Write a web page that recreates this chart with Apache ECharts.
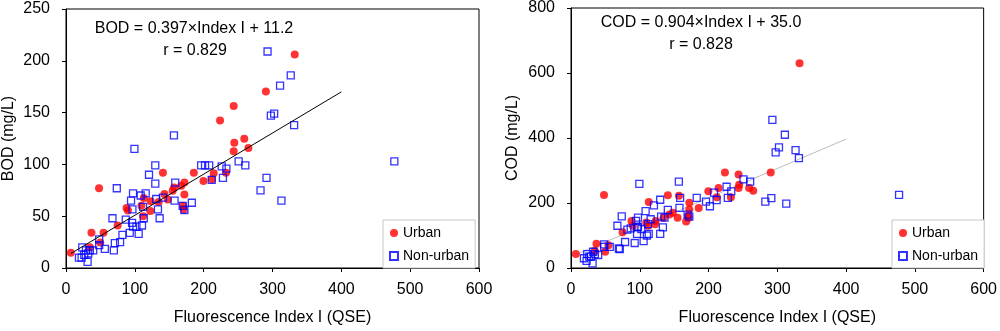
<!DOCTYPE html>
<html>
<head>
<meta charset="utf-8">
<script src="https://cdn.jsdelivr.net/npm/echarts@6/dist/echarts.min.js"></script>
<style>
html,body{margin:0;padding:0;background:#fff;}
#c{width:1000px;height:331px;}
</style>
</head>
<body>
<div id="c"></div>
<script>
// Fluorescence Index I (QSE) for urban samples, with BOD and COD (mg/L)
var urbanX   = [7, 48, 37, 54.5, 34.7, 49.7, 75, 88, 90, 109.5, 112, 113, 123, 122.5, 134.6, 140.8, 143, 148, 155, 157, 167.4, 172, 172, 170, 171, 185.7, 199.7, 212, 214.6, 223.8, 232.5, 243.6, 244.5, 243.6, 259, 265, 290.4, 332.3];
var urbanBOD = [14.6, 77, 34, 34, 20, 24.7, 41, 58, 55.5, 60, 50, 67.6, 64.4, 55, 63.8, 92, 71.4, 66, 74.6, 77.7, 79.3, 82.5, 71, 60, 56.5, 92, 84, 85.7, 91.4, 142.4, 92, 112.6, 121, 156.4, 124.7, 115.8, 170.4, 206.2];
var urbanCOD = [43, 225, 75, 70, 52, 50, 110, 145, 130, 140, 130, 203, 145, 135, 155, 224, 165, 170, 155, 222, 143, 201, 180, 160, 155, 185, 236, 218, 246, 294, 218, 246, 256, 288, 246, 238, 294, 630];

// Non-urban samples
var nonUrbanX   = [292.8, 326.5, 311, 302.4, 297.6, 331.4, 156.8, 99.4, 129.7, 196.3, 202, 208, 226.2, 233, 250.8, 260.5, 477, 120.6, 291.3, 282.6, 313, 211.7, 228, 158.7, 129.7, 73.8, 97.4, 115.8, 108.5, 94.5, 131, 140.8, 157.7, 182.8, 169.5, 172, 112, 96.5, 133.6, 136, 113, 67.5, 86.8, 96, 97.4, 102.3, 110.4, 92.6, 105.6, 82, 78.6, 71, 69.5, 48.2, 48.2, 56.4, 23.6, 29, 34.7, 39.5, 32.3, 26.5, 18.8, 22.7, 31.4];
var nonUrbanBOD = [209, 186, 176, 149, 147, 138, 128, 115, 99, 99, 99, 99, 98, 96, 103, 99, 103, 90, 87, 75, 65, 85, 87, 82.5, 81.5, 77, 72, 72, 70, 65, 66.6, 68, 65, 63, 60, 56, 59, 56.5, 56.5, 48, 48, 48, 46.6, 43.5, 40, 40, 41, 34, 33, 32, 25, 24, 17, 27.6, 22, 18.4, 20, 17, 17, 17, 14, 12.7, 10, 10, 6];
var nonUrbanCOD = [456, 363, 410, 371, 356, 338, 266, 259, 210, 204, 190, 232, 250, 236, 273, 266, 225, 193, 215, 204, 198, 209, 216, 216, 105, 159, 155, 150, 175, 145, 158, 179, 185, 216, 164, 158, 135, 125, 125, 155, 105, 130, 122, 105, 127, 120, 100, 77, 83, 118, 80, 58, 60, 73, 65, 65, 43, 35, 43, 40, 50, 35, 30, 22, 14];

// Regression fits
var bodFit = {slope: 0.397, intercept: 11.2, r: 0.829, xFrom: 7, xTo: 400};
var codFit = {slope: 0.904, intercept: 35.0, r: 0.828, xFrom: 7, xTo: 400};

var xTicks = {min: 0, max: 600, interval: 100};
var bodTicks = {min: 0, max: 250, interval: 50};
var codTicks = {min: 0, max: 800, interval: 200};

function pairs(xs, ys) { return xs.map(function (x, i) { return [x, ys[i]]; }); }
function fitLine(f) { return [[f.xFrom, f.slope * f.xFrom + f.intercept], [f.xTo, f.slope * f.xTo + f.intercept]]; }

var FONT = "'Liberation Sans', Arial, sans-serif";
var FS = 16;

function xAxis(gi) {
  return {
    gridIndex: gi, type: 'value', min: xTicks.min, max: xTicks.max, interval: xTicks.interval,
    name: 'Fluorescence Index I (QSE)', nameLocation: 'middle', nameGap: 42,
    nameTextStyle: {fontFamily: FONT, fontSize: FS, color: '#000'},
    axisLine: {show: true, onZero: false, lineStyle: {color: '#000', width: 1}},
    axisTick: {show: true, length: 4, lineStyle: {color: '#000'}},
    axisLabel: {fontFamily: FONT, fontSize: FS, color: '#000', margin: 14},
    splitLine: {show: false}
  };
}
function yAxis(gi, t, name, gap) {
  return {
    gridIndex: gi, type: 'value', min: t.min, max: t.max, interval: t.interval,
    name: name, nameLocation: 'middle', nameGap: gap,
    nameTextStyle: {fontFamily: FONT, fontSize: FS, color: '#000'},
    axisLine: {show: true, onZero: false, lineStyle: {color: '#000', width: 1}},
    axisTick: {show: true, length: 4, lineStyle: {color: '#000'}},
    axisLabel: {fontFamily: FONT, fontSize: FS, color: '#000', margin: 16},
    splitLine: {show: false}
  };
}
var urbanStyle = {color: '#ff0000'};
var nonUrbanStyle = {color: 'rgba(255,255,255,0)', borderColor: '#0000ff', borderWidth: 1.3};

function legend(left) {
  return {
    orient: 'vertical', left: left, top: 220,
    data: ['Urban', 'Non-urban'],
    itemWidth: 8, itemHeight: 8, itemGap: 9,
    padding: [6, 6, 5, 6],
    borderColor: '#c8c8c8', borderWidth: 1, backgroundColor: '#fff',
    textStyle: {fontFamily: FONT, fontSize: 14, color: '#000'},
    selectedMode: false
  };
}

var chart = echarts.init(document.getElementById('c'), null, {renderer: 'canvas'});
chart.setOption({
  animation: false,
  backgroundColor: '#fff',
  grid: [
    {left: 64, right: 521, top: 9, bottom: 59, show: true, borderColor: '#000', borderWidth: 1},
    {left: 571, right: 12, top: 6, bottom: 59, show: true, borderColor: '#000', borderWidth: 1}
  ],
  xAxis: [xAxis(0), xAxis(1)],
  yAxis: [yAxis(0, bodTicks, 'BOD (mg/L)', 49), yAxis(1, codTicks, 'COD (mg/L)', 50)],
  legend: [legend(383), legend(892)],
  series: [
    {name: 'Urban', type: 'scatter', xAxisIndex: 0, yAxisIndex: 0, symbol: 'circle', symbolSize: 8,
     itemStyle: urbanStyle, data: pairs(urbanX, urbanBOD), z: 3},
    {name: 'Non-urban', type: 'scatter', xAxisIndex: 0, yAxisIndex: 0, symbol: 'rect', symbolSize: 7,
     itemStyle: nonUrbanStyle, data: pairs(nonUrbanX, nonUrbanBOD), z: 4},
    {name: 'fitBOD', type: 'line', xAxisIndex: 0, yAxisIndex: 0, showSymbol: false, symbol: 'none',
     lineStyle: {color: '#000', width: 1}, data: fitLine(bodFit), z: 5, silent: true},
    {name: 'Urban', type: 'scatter', xAxisIndex: 1, yAxisIndex: 1, symbol: 'circle', symbolSize: 8,
     itemStyle: urbanStyle, data: pairs(urbanX, urbanCOD), z: 3},
    {name: 'Non-urban', type: 'scatter', xAxisIndex: 1, yAxisIndex: 1, symbol: 'rect', symbolSize: 7,
     itemStyle: nonUrbanStyle, data: pairs(nonUrbanX, nonUrbanCOD), z: 4},
    {name: 'fitCOD', type: 'line', xAxisIndex: 1, yAxisIndex: 1, showSymbol: false, symbol: 'none',
     lineStyle: {color: '#bdbdbd', width: 1}, data: fitLine(codFit), z: 2, silent: true}
  ],
  graphic: [
    {type: 'text', x: 194, y: 29, style: {text: 'BOD = ' + bodFit.slope.toFixed(3) + '×Index I + ' + bodFit.intercept.toFixed(1), font: FS + 'px ' + FONT, fill: '#000', textAlign: 'center', textVerticalAlign: 'middle'}},
    {type: 'text', x: 195, y: 51, style: {text: 'r = ' + bodFit.r.toFixed(3), font: FS + 'px ' + FONT, fill: '#000', textAlign: 'center', textVerticalAlign: 'middle'}},
    {type: 'text', x: 701, y: 23, style: {text: 'COD = ' + codFit.slope.toFixed(3) + '×Index I + ' + codFit.intercept.toFixed(1), font: FS + 'px ' + FONT, fill: '#000', textAlign: 'center', textVerticalAlign: 'middle'}},
    {type: 'text', x: 701, y: 45, style: {text: 'r = ' + codFit.r.toFixed(3), font: FS + 'px ' + FONT, fill: '#000', textAlign: 'center', textVerticalAlign: 'middle'}}
  ]
});
</script>
</body>
</html>
